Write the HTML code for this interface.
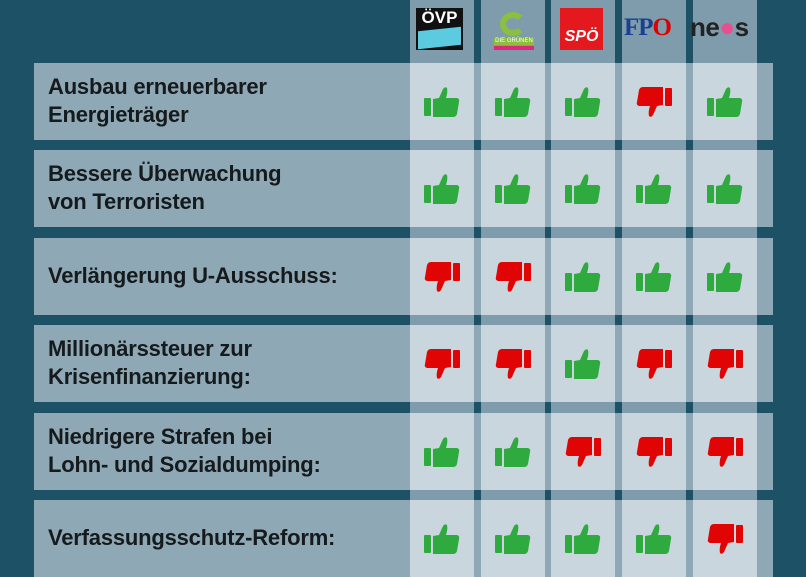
<!DOCTYPE html>
<html><head><meta charset="utf-8"><style>
body{margin:0;width:806px;height:570px;overflow:hidden;background:#1d5266;font-family:"Liberation Sans",sans-serif;position:relative}
.strip{position:absolute;top:0;height:570px;width:64px;background:#7e9cab}
.row{position:absolute;left:34px;width:739px;height:77px;background:#8fa8b5}
.lbl{position:absolute;left:48px;font-size:22px;line-height:28px;color:#151a1d;font-weight:bold;letter-spacing:-0.2px}
.cell{position:absolute;width:64px;height:77px;background:#c9d6dd}
svg.t{position:absolute;width:36px;height:32px}
.g path,.g rect{fill:#2eaa3e}
.r path,.r rect{fill:#e00404}
</style></head><body>
<div class="strip" style="left:410px"></div>
<div class="strip" style="left:481px"></div>
<div class="strip" style="left:551px"></div>
<div class="strip" style="left:622px"></div>
<div class="strip" style="left:693px"></div>

<!-- logos -->
<div style="position:absolute;left:416px;top:8px;width:47px;height:42px;background:#111">
 <div style="color:#fff;font-weight:bold;font-size:17px;text-align:center;line-height:20px">ÖVP</div>
 <div style="position:absolute;left:2px;top:21px;width:43px;height:18px;background:#5ccbe0;transform:skewY(-6deg)"></div>
</div>
<div style="position:absolute;left:492px;top:12px;width:44px;height:40px">
 <div style="position:absolute;left:8px;top:0;width:26px;height:24px;border:6px solid #8cbf3f;border-radius:50%;border-right-color:transparent;box-sizing:border-box"></div>
 <div style="position:absolute;left:2px;top:26px;width:40px;height:7px;background:#8cbf3f;font-size:6px;color:#fff;text-align:center;line-height:7px">DIE GRÜNEN</div>
 <div style="position:absolute;left:2px;top:34px;width:40px;height:4px;background:#e0257e"></div>
</div>
<div style="position:absolute;left:560px;top:8px;width:43px;height:42px;background:#e3191e;color:#fff;font-weight:bold;font-style:italic;font-size:16px;line-height:58px;text-align:center">SPÖ</div>
<div style="position:absolute;left:624px;top:14px;font-family:'Liberation Serif',serif;font-weight:bold;font-size:25px;color:#1b3f93;letter-spacing:-1px">FP<span style="color:#d00">O</span></div>
<div style="position:absolute;left:690px;top:12px;font-weight:bold;font-size:26px;color:#222;letter-spacing:-0.5px">ne<span style="color:#e6508f">●</span>s</div>

<script>
const rows=[["Ausbau erneuerbarer","Energieträger","GGGRG"],["Bessere Überwachung","von Terroristen","GGGGG"],["Verlängerung U-Ausschuss:","","RRGGG"],["Millionärssteuer zur","Krisenfinanzierung:","RRGRR"],["Niedrigere Strafen bei","Lohn- und Sozialdumping:","GGRRR"],["Verfassungsschutz-Reform:","","GGGGR"]];
const cols=[410,481,551,622,693];
const up='<rect x="0" y="12" width="7" height="18" rx="1"/><path d="M9 13 L15 12 L19 3 Q21 0 23 2 Q24 6 22 12 L33 12 Q36 13 35 16 L33 28 Q32 31 29 31 L9 31 Z"/>';
let h='';
rows.forEach((r,i)=>{
 const y=63+i*87.4;
 h+=`<div class="row" style="top:${y}px"></div>`;
 cols.forEach((c,j)=>{
  h+=`<div class="cell" style="left:${c}px;top:${y}px"></div>`;
  const g=r[2][j]=='G';
  h+=`<svg class="t ${g?'g':'r'}" viewBox="0 0 36 32" style="left:${c+14}px;top:${y+23}px${g?'':';transform:rotate(180deg)'}">${up}</svg>`;
 });
 const txt=r[1]?r[0]+'<br>'+r[1]:r[0];
 const ty=r[1]?y+10:y+24;
 h+=`<div class="lbl" style="top:${ty}px">${txt}</div>`;
});
document.write(h);
</script>
</body></html>
